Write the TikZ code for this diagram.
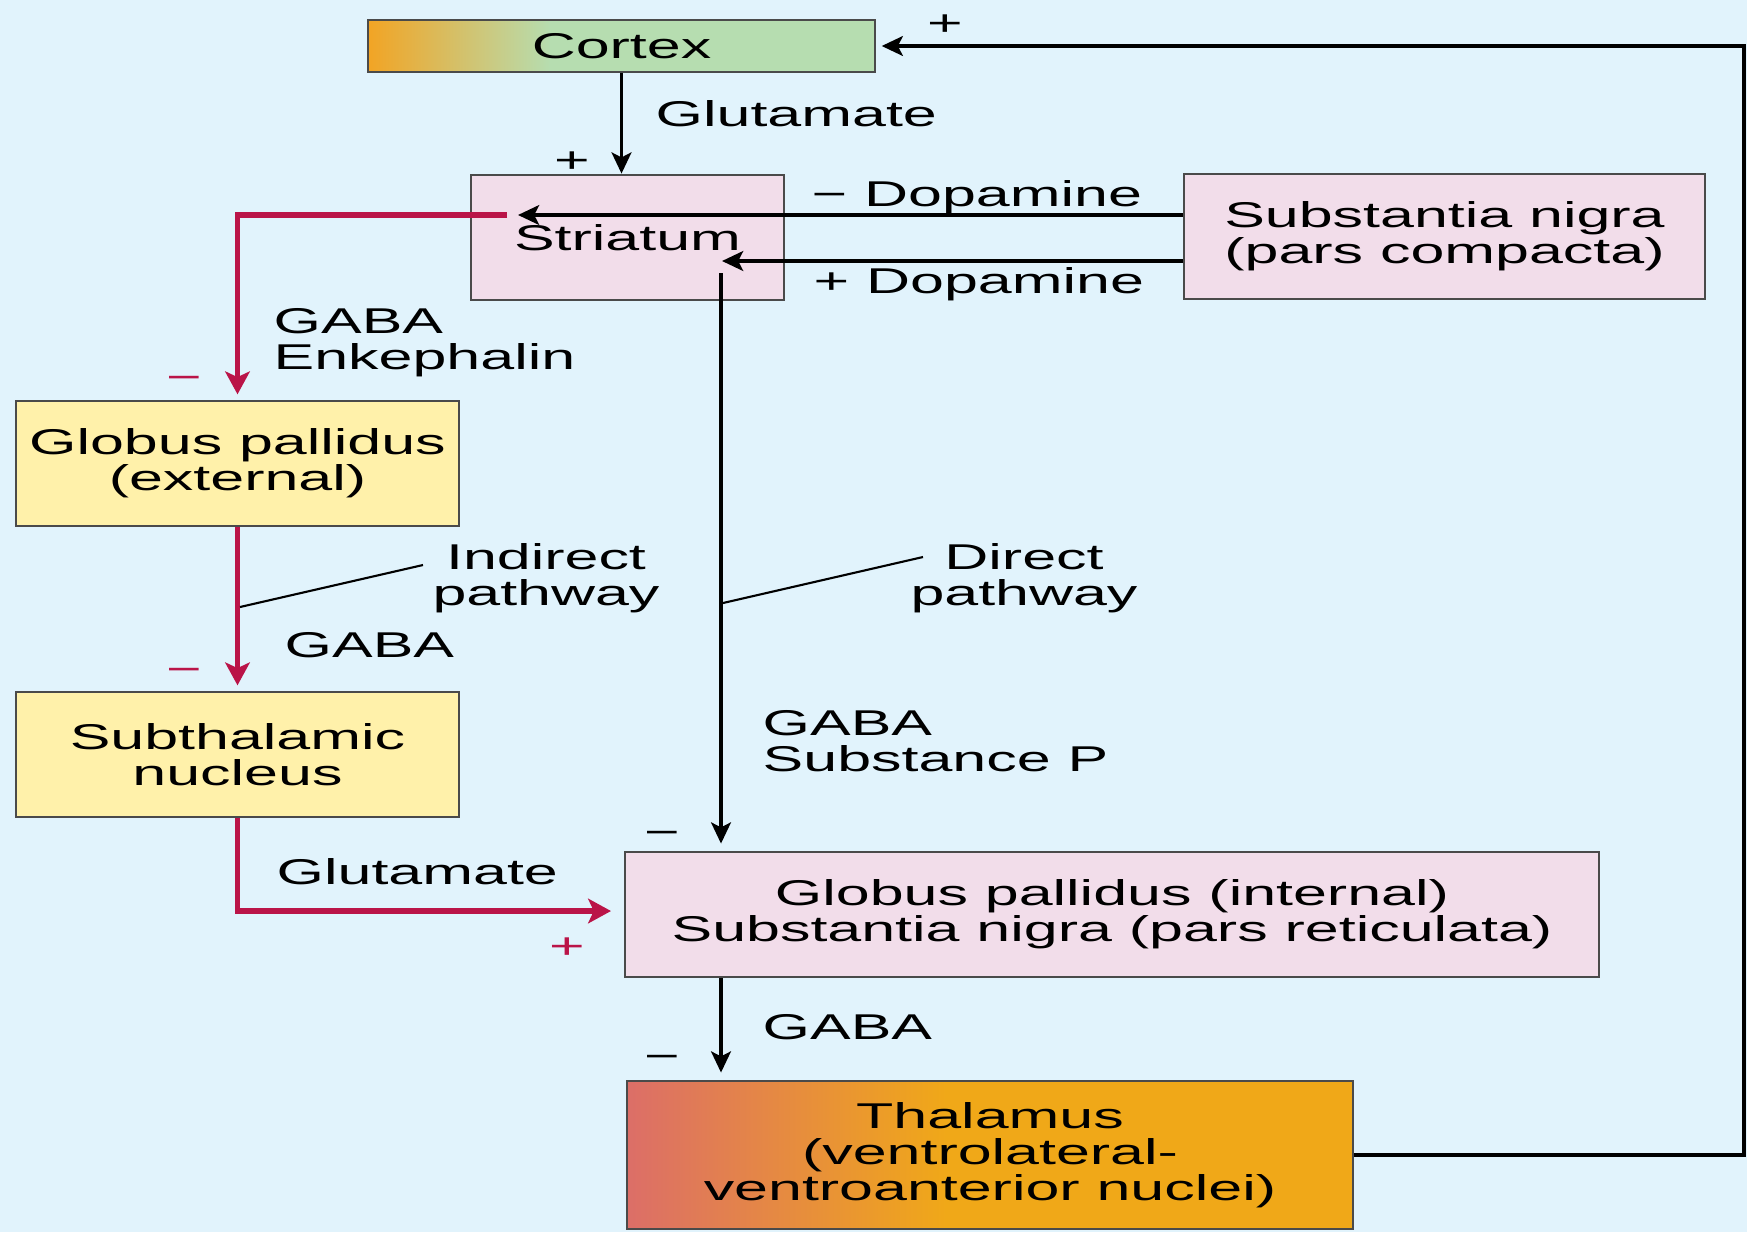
\documentclass[tikz,border=0pt]{standalone}
\usepackage{fontspec}
\setmainfont{Liberation Sans}[FakeStretch=1.7]
\usetikzlibrary{arrows.meta}
\definecolor{bgblue}{HTML}{E1F3FC}
\definecolor{cortexgreen}{HTML}{B6DDB0}
\definecolor{cortexorange}{HTML}{F2A424}
\definecolor{pinkbox}{HTML}{F2DDEA}
\definecolor{yellowbox}{HTML}{FFF1AA}
\definecolor{thalred}{HTML}{DC6E68}
\definecolor{thalorange}{HTML}{F0A818}
\definecolor{pathred}{HTML}{BA1448}
\definecolor{boxline}{HTML}{4A4A4A}
\pgfdeclarehorizontalshading{cortexshade}{100bp}{color(0bp)=(cortexorange); color(25bp)=(cortexorange); color(43bp)=(cortexgreen); color(100bp)=(cortexgreen)}
\pgfdeclarehorizontalshading{thalshade}{100bp}{color(0bp)=(thalred); color(25bp)=(thalred); color(47bp)=(thalorange); color(100bp)=(thalorange)}
\tikzset{
  nucbox/.style={draw=boxline, line width=0.8pt, rectangle, inner sep=0pt, align=center, font=\fontsize{10.2pt}{10.2pt}\selectfont},
  lbl/.style={inner sep=0pt, align=left, font=\fontsize{10.2pt}{10.2pt}\selectfont},
  sign/.style={inner sep=0pt, font=\fontsize{10.2pt}{10.2pt}\selectfont},
  blackarrow/.style={draw=black, line width=1.1pt, -{Stealth[length=6pt, width=5.6pt, inset=1.4pt]}},
  redarrow/.style={draw=pathred, line width=1.5pt, -{Stealth[length=6.5pt, width=7pt, inset=1.6pt]}},
  leader/.style={draw=black, line width=0.6pt}
}

\begin{document}
\begin{tikzpicture}%
\useasboundingbox (0,0) rectangle (17.47,-12.32);%
\fill[bgblue] (0,0) rectangle (17.47,-12.32);%
\node[nucbox, shading=cortexshade, minimum width=5.07cm, minimum height=0.52cm] (cortex) at (6.215,-0.46) {Cortex};%
\node[nucbox, fill=pinkbox, minimum width=3.13cm, minimum height=1.25cm] (striatum) at (6.275,-2.375) {Striatum};%
\node[nucbox, fill=pinkbox, minimum width=5.21cm, minimum height=1.25cm] (snc) at (14.445,-2.365) {Substantia nigra\\(pars compacta)};%
\node[nucbox, fill=yellowbox, minimum width=4.43cm, minimum height=1.25cm] (gpe) at (2.375,-4.635) {Globus pallidus\\(external)};%
\node[nucbox, fill=yellowbox, minimum width=4.43cm, minimum height=1.25cm] (stn) at (2.375,-7.545) {Subthalamic\\nucleus};%
\node[nucbox, fill=pinkbox, minimum width=9.74cm, minimum height=1.25cm] (gpi) at (11.12,-9.145) {Globus pallidus (internal)\\Substantia nigra (pars reticulata)};%
\node[nucbox, shading=thalshade, minimum width=7.26cm, minimum height=1.48cm] (thalamus) at (9.90,-11.55) {Thalamus\\(ventrolateral-\\ventroanterior nuclei)};%
\coordinate (dopaminus) at (5.18,-2.15);%
\coordinate (dopaplus) at (7.22,-2.61);%
\coordinate (indstart) at (5.07,-2.15);%
\coordinate (dirstart) at (7.21,-2.73);%
\coordinate (glutend) at (6.11,-9.11);%
\coordinate (fbedge) at (17.44,0);%
\coordinate (indfoot) at (2.40,-6.07);%
\coordinate (indtip) at (4.23,-5.65);%
\coordinate (dirfoot) at (7.23,-6.03);%
\coordinate (dirtip) at (9.23,-5.57);%
\draw[blackarrow] (cortex.south) -- (cortex.south |- striatum.north);%
\draw[blackarrow] (snc.west |- dopaminus) -- (dopaminus);%
\draw[blackarrow] (snc.west |- dopaplus) -- (dopaplus);%
\draw[redarrow, shorten >=1.5pt] (indstart) -| (gpe.north);%
\draw[redarrow, shorten >=1.5pt] (gpe.south) -- (stn.north);%
\draw[redarrow] (stn.south) |- (glutend);%
\draw[blackarrow, shorten >=2pt] (dirstart) -- (dirstart |- gpi.north);%
\draw[blackarrow, shorten >=2pt] (gpi.south -| dirstart) -- (thalamus.north -| dirstart);%
\draw[blackarrow, shorten >=1.5pt] (thalamus.east) -| (fbedge |- cortex.east) -- (cortex.east);%
\draw[leader] (indfoot) -- (indtip);%
\draw[leader] (dirfoot) -- (dirtip);%
\node[lbl, anchor=west] (glutcortex) at (6.55,-1.14) {Glutamate};%
\node[sign] (plusstriatum) at (5.72,-1.62) {+};%
\node[sign] (pluscortex) at (9.45,-0.25) {+};%
\node[lbl, anchor=west] (dopaminelbl) at (8.11,-1.97) {− Dopamine};%
\node[lbl, anchor=west] (dopapluslbl) at (8.13,-2.84) {+ Dopamine};%
\node[lbl, anchor=west] (enkephalin) at (2.73,-3.43) {GABA\\Enkephalin};%
\node[sign, text=pathred] (minusgpe) at (1.84,-3.83) {−};%
\node[lbl, align=center] (indirect) at (5.46,-5.78) {Indirect\\pathway};%
\node[lbl, anchor=west] (gabastn) at (2.84,-6.45) {GABA};%
\node[sign, text=pathred] (minusstn) at (1.84,-6.75) {−};%
\node[lbl, anchor=west] (glutstn) at (2.76,-8.72) {Glutamate};%
\node[sign, text=pathred] (plusgpi) at (5.67,-9.48) {+};%
\node[lbl, align=center] (direct) at (10.24,-5.78) {Direct\\pathway};%
\node[lbl, anchor=west] (substancep) at (7.62,-7.41) {GABA\\Substance P};%
\node[sign] (minusgpi) at (6.62,-8.38) {−};%
\node[lbl, anchor=west] (gabathal) at (7.62,-10.27) {GABA};%
\node[sign] (minusthal) at (6.62,-10.62) {−};%
\end{tikzpicture}
\end{document}
